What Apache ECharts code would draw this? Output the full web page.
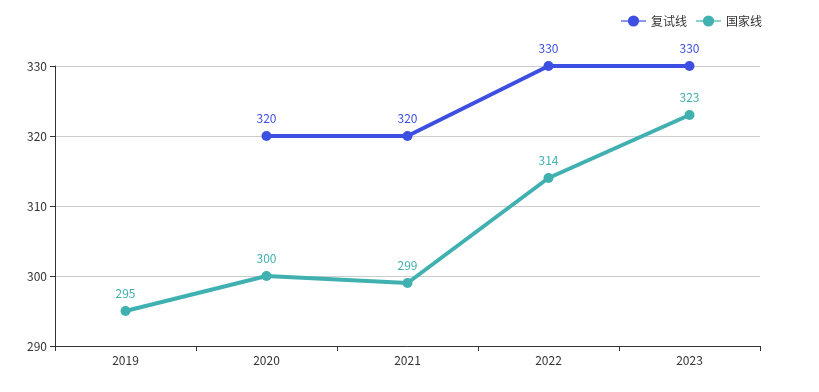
<!DOCTYPE html>
<html><head><meta charset="utf-8">
<script src="https://cdn.jsdelivr.net/npm/echarts@6/dist/echarts.min.js"></script>
<style>html,body{margin:0;padding:0;background:#fff}#c{width:819px;height:392px}</style>
</head><body><div id="c"></div>
<script>
const categories = ['2019','2020','2021','2022','2023'];
const retestLine = [null, 320, 320, 330, 330];
const nationalLine = [295, 300, 299, 314, 323];
const seriesNames = ['复试线','国家线'];
const colors = ['#3d4fe3','#40b0b0'];
const font = '"Noto Sans CJK SC", "Noto Sans", sans-serif';
const chart = echarts.init(document.getElementById('c'));
chart.setOption({
  animation:false,
  textStyle:{fontFamily:font},
  color:colors,
  legend:{top:10,right:52,itemWidth:25,itemHeight:14,lineStyle:{opacity:0.6},textStyle:{fontSize:12,color:'#333',fontFamily:font},data:seriesNames},
  grid:{left:55,right:59,top:66,bottom:46},
  xAxis:{type:'category',data:categories,boundaryGap:true,
    axisLine:{lineStyle:{color:'#333'}},axisTick:{show:true},
    axisLabel:{color:'#333',fontSize:12,fontFamily:font,margin:8}},
  yAxis:{type:'value',min:290,max:330,interval:10,
    axisLine:{show:true,lineStyle:{color:'#333'}},axisTick:{show:true},
    axisLabel:{color:'#333',fontSize:12,fontFamily:font},
    splitLine:{lineStyle:{color:'#ccc'}}},
  series:[
    {name:seriesNames[0],type:'line',data:retestLine,symbol:'circle',symbolSize:10,
     lineStyle:{width:4,color:colors[0]},itemStyle:{color:colors[0]},
     label:{show:true,position:'top',color:colors[0],fontSize:12,distance:7}},
    {name:seriesNames[1],type:'line',data:nationalLine,symbol:'circle',symbolSize:10,
     lineStyle:{width:4,color:colors[1]},itemStyle:{color:colors[1]},
     label:{show:true,position:'top',color:colors[1],fontSize:12,distance:7}}
  ]
});
</script></body></html>
